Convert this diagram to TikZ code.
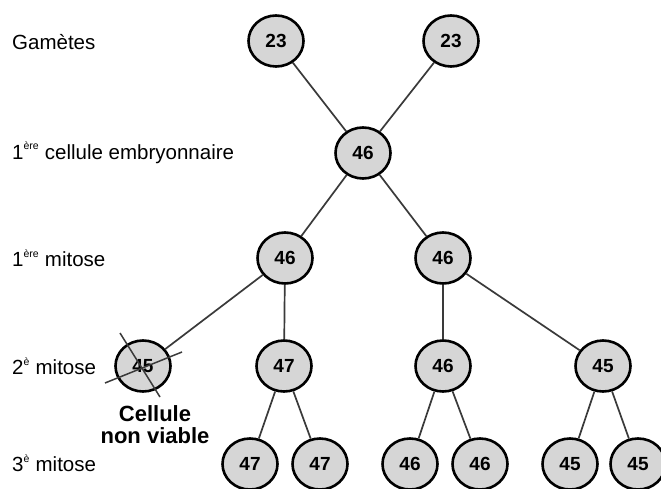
\documentclass[tikz,border=0pt]{standalone}
\usepackage{fontspec}
\setmainfont{Liberation Sans}
\usepackage{xcolor}
\usetikzlibrary{positioning,shapes.geometric}
\definecolor{CellGray}{HTML}{D6D6D6}
\definecolor{LinkGray}{HTML}{3A3A3A}
\tikzset{
  cellbox/.style={ellipse,draw=black,line width=2.6pt,fill=CellGray,minimum width=55pt,minimum height=51pt,inner sep=0pt,font=\fontsize{19}{21}\selectfont\bfseries},
  rowlabel/.style={anchor=west,inner sep=0pt,font=\fontsize{20.5}{23}\selectfont},
  link/.style={line width=1.7pt,draw=LinkGray},
  crossline/.style={line width=1.5pt,draw=LinkGray}
}
\newcommand{\supx}[1]{\raisebox{2pt}{\textsuperscript{\fontsize{10.5}{11}\selectfont #1}}}

\begin{document}
\begin{tikzpicture}[x=1pt,y=-1pt]
  \useasboundingbox[fill=white] (0,0) rectangle (661,489);

  % row labels
  \node[rowlabel] (lg) at (12,42) {Gamètes};
  \node[rowlabel] (le) at (12,153) {1\supx{ère} cellule embryonnaire};
  \node[rowlabel] (l1) at (12,258) {1\supx{ère} mitose};
  \node[rowlabel] (l2) at (12,366) {2\supx{è} mitose};
  \node[rowlabel] (l3) at (12,463) {3\supx{è} mitose};

  % gametes and zygote
  \node[cellbox] (g1) at (276,41) {23};
  \node[cellbox] (g2) at (451,41) {23};
  \node[cellbox] (e0) at (363,153) {46};

  % first division
  \node[cellbox] (m1a) at (285,258) {46};
  \node[cellbox] (m1b) at (443,258) {46};

  % second division
  \node[cellbox] (m2a) at (143,366) {45};
  \node[cellbox] (m2b) at (284,366) {47};
  \node[cellbox] (m2c) at (443,366) {46};
  \node[cellbox] (m2d) at (603,366) {45};

  % third division
  \node[cellbox] (m3a) at (250,464) {47};
  \node[cellbox] (m3b) at (320,464) {47};
  \node[cellbox] (m3c) at (410,464) {46};
  \node[cellbox] (m3d) at (480,464) {46};
  \node[cellbox] (m3e) at (570,464) {45};
  \node[cellbox] (m3f) at (638,464) {45};

  \node[font=\fontsize{22}{22}\selectfont\bfseries,align=center,inner sep=0pt,below=13pt of m2a,xshift=12pt] (nv) {Cellule\\non viable};

  \draw[link] (g1) -- (e0);
  \draw[link] (g2) -- (e0);
  \draw[link] (e0) -- (m1a);
  \draw[link] (e0) -- (m1b);
  \draw[link] (m1a) -- (m2a);
  \draw[link] (m1a) -- (m2b);
  \draw[link] (m1b) -- (m2c);
  \draw[link] (m1b) -- (m2d);
  \draw[link] (m2b) -- (m3a);
  \draw[link] (m2b) -- (m3b);
  \draw[link] (m2c) -- (m3c);
  \draw[link] (m2c) -- (m3d);
  \draw[link] (m2d) -- (m3e);
  \draw[link] (m2d) -- (m3f);

  % cross over the lost cell
  \draw[crossline] ([shift={(-23,-33)}]m2a.center) -- ([shift={(17,31)}]m2a.center);
  \draw[crossline] ([shift={(-38,17)}]m2a.center) -- ([shift={(39,-14)}]m2a.center);
\end{tikzpicture}
\end{document}
